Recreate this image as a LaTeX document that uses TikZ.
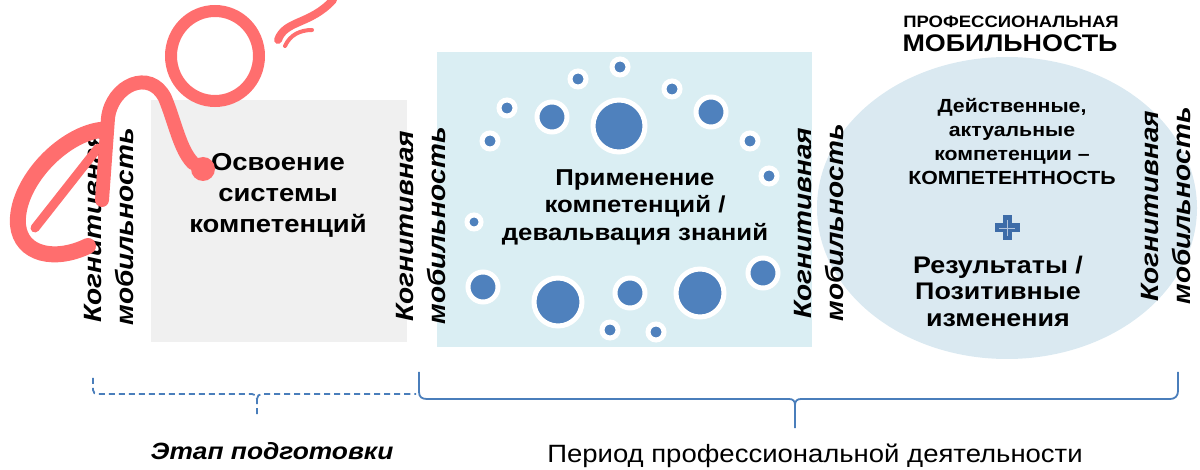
\documentclass[tikz,border=0pt]{standalone}
\usepackage{fontspec}
\setmainfont{Liberation Sans}[FakeStretch=1.12]
\newfontfamily\labfont{Liberation Sans}[FakeStretch=1.1]
\definecolor{graybox}{HTML}{F0F0F0}
\definecolor{aquabox}{HTML}{DAEEF3}
\definecolor{ellcol}{HTML}{DAE9F1}
\definecolor{dotblue}{HTML}{4F81BD}
\definecolor{bracecol}{HTML}{4A7EBB}
\definecolor{crossblue}{HTML}{3D6CA8}
\definecolor{wm}{RGB}{255,110,110}
\tikzset{
  boxtext/.style={font=\bfseries\fontsize{24.5}{31}\selectfont, align=center, inner sep=0pt},
  midtext/.style={font=\bfseries\fontsize{23}{27.5}\selectfont, align=center, inner sep=0pt},
  elltext/.style={font=\bfseries\fontsize{19}{24}\selectfont, align=center, inner sep=0pt},
  restext/.style={font=\bfseries\fontsize{24}{26.5}\selectfont, align=center, inner sep=0pt},
  verttext/.style={font=\bfseries\itshape\fontsize{25}{32}\selectfont, align=center, rotate=90, inner sep=0pt},
  bubble/.style={fill=dotblue, draw=white, line width=5pt},
  bracestyle/.style={draw=bracecol, line width=1.8pt},
  wmstroke/.style={draw=wm, line cap=round},
}
\begin{document}
\begin{tikzpicture}[x=1pt,y=-1pt]
\useasboundingbox (0,0) rectangle (1200,470);
% shapes
\fill[graybox] (151,100) rectangle (407,342);
\fill[aquabox] (437,52) rectangle (812,347);
\fill[ellcol] (1007,208) ellipse (190 and 151);
% bubbles
\foreach \cx/\cy/\r in {620/67/8, 578/79/8, 672/89/8, 507/108/8, 552/117/15, 619/126/26,
  711/112/15, 490/141/8, 750/141/8, 769/176/8, 474/222/7, 483/287/15, 558/302/24,
  630/293/15, 700/293/24, 763/273/15, 610/330/8, 656/332/8}
  {\filldraw[bubble] (\cx,\cy) circle (\r);}
% texts
\node[boxtext] (osv) at (278,195) {Освоение\\системы\\компетенций};
\node[midtext] (prim) at (635,207) {Применение\\компетенций /\\девальвация знаний};
\node[font=\bfseries\fontsize{16.5}{18}\selectfont, inner sep=0pt] (prof) at (1011,22) {ПРОФЕССИОНАЛЬНАЯ};
\node[font=\bfseries\fontsize{24}{26}\selectfont, inner sep=0pt] (mob) at (1010,43) {МОБИЛЬНОСТЬ};
\node[elltext] (deist) at (1012,142) {Действенные,\\актуальные\\компетенции –\\КОМПЕТЕНТНОСТЬ};
\node[restext] (res) at (998,291) {Результаты /\\Позитивные\\изменения};
% plus
\node[inner sep=0pt, minimum size=0pt] (plus) at (1007,228) {};
\fill[crossblue] ([xshift=-4.5pt,yshift=12.5pt]plus.center) rectangle ([xshift=4.5pt,yshift=-12.5pt]plus.center);
\fill[crossblue] ([xshift=-12.5pt,yshift=4.5pt]plus.center) rectangle ([xshift=12.5pt,yshift=-4.5pt]plus.center);
\draw[white!60!crossblue, line width=0.6pt] ([yshift=8pt]plus.center) -- ([yshift=-8pt]plus.center);
\draw[white!60!crossblue, line width=0.6pt] ([xshift=-8pt]plus.center) -- ([xshift=8pt]plus.center);
% vertical labels
\node[verttext] (km1) at (109,227) {Когнитивная\\мобильность};
\node[verttext] (km2) at (421,226) {Когнитивная\\мобильность};
\node[verttext] (km3) at (819,223) {Когнитивная\\мобильность};
\node[verttext] (km4) at (1166,206) {Когнитивная\\мобильность};
% braces
\draw[bracestyle, dash pattern=on 6pt off 4pt] (93,378) -- (93,390) .. controls (93,393) and (95,394) .. (98,394) -- (252,394) .. controls (255,394) and (257,396) .. (257,399) -- (257,417);
\draw[bracestyle, dash pattern=on 6pt off 4pt] (257,399) .. controls (257,396) and (259,394) .. (262,394) -- (416,394);
\draw[bracestyle] (419,372) -- (419,392) .. controls (419,397) and (422,399) .. (427,399) -- (789,399) .. controls (793,399) and (795,401) .. (795,405) -- (795,428);
\draw[bracestyle] (795,405) .. controls (795,401) and (797,399) .. (801,399) -- (1170,399) .. controls (1175,399) and (1178,396) .. (1178,391) -- (1178,372);
\node[font=\bfseries\itshape\fontsize{23.5}{28}\selectfont, inner sep=0pt] (etap) at (272,451) {Этап подготовки};
\node[font=\labfont\fontsize{25}{28}\selectfont, inner sep=0pt] (period) at (815,456) {Период профессиональной деятельности};
% watermark
\draw[wmstroke, line width=16pt] (100,130) .. controls (60,136) and (15,185) .. (18,225) .. controls (21,255) and (55,262) .. (88,246);
\draw[wmstroke, line width=9pt] (35,228) -- (98,148);
\draw[wmstroke, line width=14pt] (102,200) -- (108,118) .. controls (112,85) and (150,68) .. (165,98) .. controls (175,122) and (180,150) .. (193,163);
\fill[wm] (203,169) circle (12);
\draw[wmstroke, line width=12pt] (215,56) ellipse (44 and 45);
\draw[wmstroke, line width=8pt] (278,40) .. controls (285,20) and (310,25) .. (333,0);
\draw[wmstroke, line width=4pt] (285,46) .. controls (290,35) and (300,30) .. (312,30);
\end{tikzpicture}
\end{document}
